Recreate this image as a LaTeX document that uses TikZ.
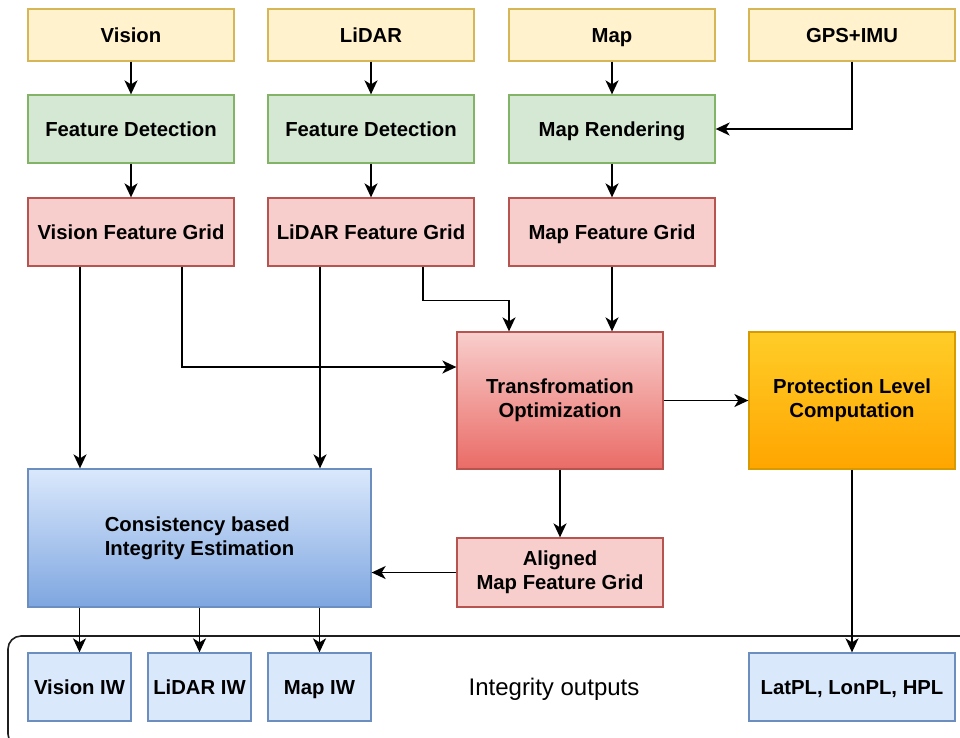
\documentclass[tikz,border=0pt]{standalone}
\usepackage{fontspec}
\setmainfont{Liberation Sans}
\usetikzlibrary{arrows.meta,shadings}
\definecolor{yfill}{HTML}{FFF2CC}\definecolor{ydraw}{HTML}{D6B656}
\definecolor{gfill}{HTML}{D5E8D4}\definecolor{gdraw}{HTML}{82B366}
\definecolor{rfill}{HTML}{F8CECC}\definecolor{rdraw}{HTML}{B85450}
\definecolor{rdark}{HTML}{EA6B66}
\definecolor{bfill}{HTML}{DAE8FC}\definecolor{bdraw}{HTML}{6C8EBF}
\definecolor{bdark}{HTML}{7EA6E0}
\definecolor{otop}{HTML}{FFCD28}\definecolor{obot}{HTML}{FFA500}\definecolor{odraw}{HTML}{D79B00}
\newcommand\boxstrut{\rule[-4pt]{0pt}{22.6pt}}
\begin{document}
\begin{tikzpicture}[x=1pt,y=-1pt,
  box/.style={draw, line width=1.3pt, minimum width=206pt, minimum height=68pt, inner sep=0pt,
    font=\bfseries\fontsize{20.3}{24}\selectfont, align=center, text=black,
    execute at begin node=\boxstrut, execute at end node=\boxstrut},
  ybox/.style={box, fill=yfill, draw=ydraw, minimum height=52pt},
  gbox/.style={box, fill=gfill, draw=gdraw},
  rbox/.style={box, fill=rfill, draw=rdraw},
  bbox/.style={box, fill=bfill, draw=bdraw},
  arr/.style={draw=black, line width=1.6pt, -{Stealth[length=14pt,width=13pt,inset=4pt]}},
  frame/.style={draw=black!88, line width=1.6pt, rounded corners=13pt}
]
\useasboundingbox (0,0) rectangle (960,737);
\draw[frame] (8,636) rectangle (985,747);

\node[ybox] (vis) at (131,35) {Vision};
\node[ybox] (lid) at (371,35) {LiDAR};
\node[ybox] (map) at (612,35) {Map};
\node[ybox] (gps) at (852,35) {GPS+IMU};

\node[gbox] (fd1) at (131,129) {Feature Detection};
\node[gbox] (fd2) at (371,129) {Feature Detection};
\node[gbox] (mr)  at (612,129) {Map Rendering};

\node[rbox] (vfg) at (131,232) {Vision Feature Grid};
\node[rbox] (lfg) at (371,232) {LiDAR Feature Grid};
\node[rbox] (mfg) at (612,232) {Map Feature Grid};

\node[box, draw=rdraw, top color=rfill, bottom color=rdark, minimum height=137pt] (to) at (560,400.5) {Transfromation\\Optimization};
\node[box, draw=odraw, top color=otop, bottom color=obot, minimum height=137pt] (pl) at (852,400.5) {Protection Level\\Computation};
\node[box, draw=bdraw, top color=bfill, bottom color=bdark, minimum width=343pt, minimum height=138pt, align=left] (cie) at (199.5,538) {Consistency based\\Integrity Estimation};
\node[rbox, minimum height=69pt] (amg) at (560,572.5) {Aligned\\Map Feature Grid};

\node[bbox, minimum width=103pt] (viw) at (79.5,687) {Vision IW};
\node[bbox, minimum width=103pt] (liw) at (199.5,687) {LiDAR IW};
\node[bbox, minimum width=103pt] (miw) at (319.5,687) {Map IW};
\node[bbox] (lpl) at (852,687) {LatPL, LonPL, HPL};
\node[font=\fontsize{24}{28}\selectfont] (io) at (554,689) {Integrity outputs};

\draw[arr] (vis) -- (fd1);
\draw[arr] (lid) -- (fd2);
\draw[arr] (map) -- (mr);
\draw[arr] (gps.south) |- (mr.east);
\draw[arr] (fd1) -- (vfg);
\draw[arr] (fd2) -- (lfg);
\draw[arr] (mr) -- (mfg);

\draw[arr] ([xshift=-51pt]vfg.south) -- ([xshift=-51pt]vfg.south |- cie.north);
\draw[arr] ([xshift=51pt]vfg.south) |- ([yshift=33.5pt]to.west);
\draw[arr] ([xshift=-51pt]lfg.south) -- ([xshift=-51pt]lfg.south |- cie.north);
\draw[arr] ([xshift=52pt]lfg.south) -- ++(0,34) -| ([xshift=-51pt]to.north);
\draw[arr] (mfg.south) -- (mfg.south |- to.north);

\draw[arr] (to.east) -- (pl.west);
\draw[arr] (to.south) -- (amg.north);
\draw[arr] (amg.west) -- (amg.west -| cie.east);

\draw[arr] (viw.north |- cie.south) -- (viw.north);
\draw[arr] (liw.north |- cie.south) -- (liw.north);
\draw[arr] (miw.north |- cie.south) -- (miw.north);
\draw[arr] (pl.south) -- (lpl.north);
\end{tikzpicture}
\end{document}
